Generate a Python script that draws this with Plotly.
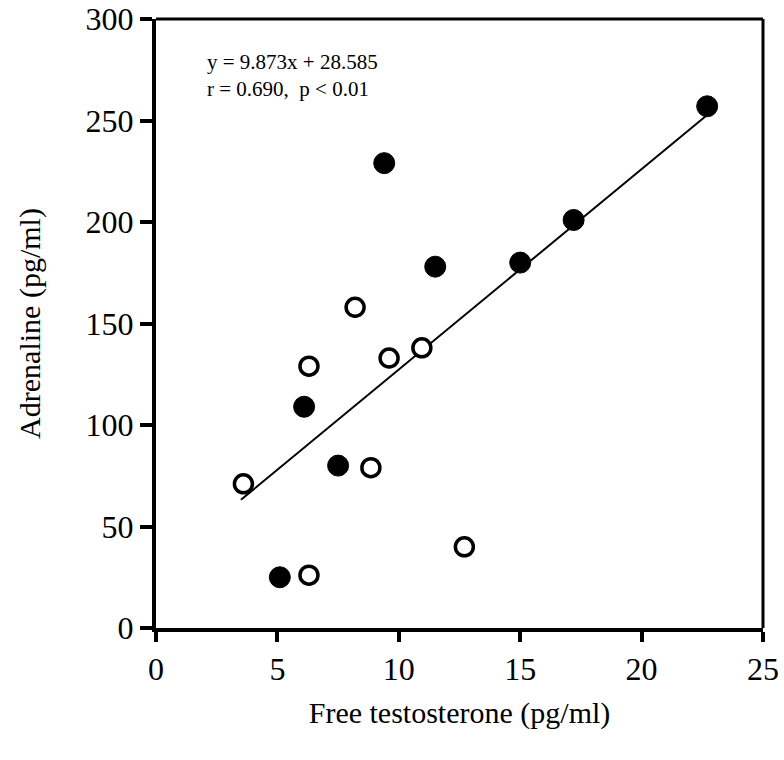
import plotly.graph_objects as go

# Data
filled_x = [5.1, 6.1, 7.5, 9.4, 11.5, 15.0, 17.2, 22.7]
filled_y = [25, 109, 80, 229, 178, 180, 201, 257]
open_x = [3.6, 6.3, 6.3, 8.2, 8.85, 9.6, 10.95, 12.7]
open_y = [71, 26, 129, 158, 79, 133, 138, 40]

slope = 9.873
intercept = 28.585
fit_x = [3.5, 22.7]
fit_y = [slope * v + intercept for v in fit_x]

x_ticks = [0, 5, 10, 15, 20, 25]
y_ticks = [0, 50, 100, 150, 200, 250, 300]

FONT = "Liberation Serif, Times New Roman, serif"

fig = go.Figure()
fig.add_trace(go.Scatter(x=fit_x, y=fit_y, mode="lines",
                         line=dict(color="black", width=2), showlegend=False,
                         hoverinfo="skip"))
fig.add_trace(go.Scatter(x=open_x, y=open_y, mode="markers",
                         marker=dict(size=18, color="white",
                                     line=dict(color="black", width=3.5)),
                         showlegend=False, cliponaxis=False))
fig.add_trace(go.Scatter(x=filled_x, y=filled_y, mode="markers",
                         marker=dict(size=21, color="black",
                                     line=dict(color="black", width=1)),
                         showlegend=False, cliponaxis=False))

fig.add_annotation(xref="paper", yref="paper", x=0.08, y=0.908,
                   xanchor="left", yanchor="middle", showarrow=False,
                   align="left",
                   text="y = 9.873x + 28.585<br>r = 0.690,  p < 0.01",
                   font=dict(family=FONT, size=21, color="black"))

# top and right frame lines
fig.add_shape(type="line", xref="paper", yref="paper", x0=0, x1=1, y0=1, y1=1,
              line=dict(color="black", width=3))
fig.add_shape(type="line", xref="paper", yref="paper", x0=1, x1=1, y0=0, y1=1,
              line=dict(color="black", width=3))

fig.update_layout(
    template="none",
    width=784, height=760,
    margin=dict(l=156, r=21, t=19, b=132, autoexpand=False),
    paper_bgcolor="white", plot_bgcolor="white",
    font=dict(family=FONT, size=32, color="black"),
    xaxis=dict(range=[0, 25], tickvals=x_ticks, showgrid=False, zeroline=False,
               automargin=False,
               showline=True, linecolor="black", linewidth=4,
               ticks="outside", ticklen=10, tickwidth=4, tickcolor="black",
               title=dict(text="Free testosterone (pg/ml)", standoff=17,
                          font=dict(size=30))),
    yaxis=dict(range=[0, 300], tickvals=y_ticks, showgrid=False, zeroline=False,
               automargin=False,
               showline=True, linecolor="black", linewidth=4,
               ticks="outside", ticklen=12, tickwidth=4, tickcolor="black",
               title=dict(text="Adrenaline (pg/ml)", standoff=37,
                          font=dict(size=30))),
)

fig.write_html(
    "out.html",
    config={"displayModeBar": False},
    post_script="document.body.style.margin='0';"
                "document.documentElement.style.overflow='hidden';",
)
